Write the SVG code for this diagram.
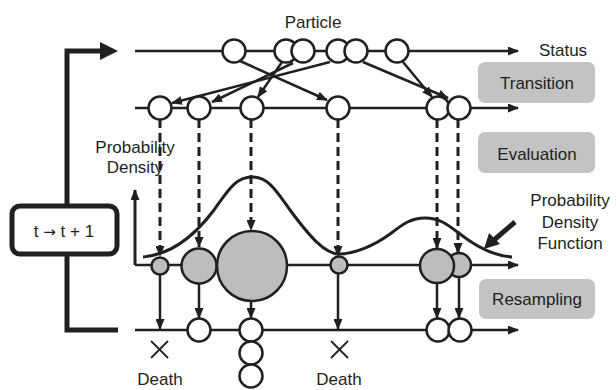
<svg xmlns="http://www.w3.org/2000/svg" width="616" height="390" viewBox="0 0 616 390">
<defs>
<style>
.ln{stroke:#231f20;stroke-width:3;fill:none}
.ar{stroke:#231f20;stroke-width:2.5;fill:none;marker-end:url(#ah)}
.da{stroke:#231f20;stroke-width:3;fill:none;stroke-dasharray:9 5;marker-end:url(#ah)}
.c{fill:#fff;stroke:#231f20;stroke-width:2.5}
.g{fill:#bcbdbf;stroke:#231f20;stroke-width:2.5}
.box{fill:#c2c3c5}
.t{font-family:"Liberation Sans",Arial,sans-serif;font-size:17px;fill:#231f20;text-anchor:middle}
.x{stroke:#231f20;stroke-width:1.8}
</style>
<marker id="ah" markerUnits="userSpaceOnUse" markerWidth="11" markerHeight="9" refX="10" refY="4.5" orient="auto">
<path d="M0,0 L11,4.5 L0,9 z" fill="#231f20"/>
</marker>
</defs>
<rect width="616" height="390" fill="#fff"/>

<g id="connectors">
<line class="ar" x1="135" y1="51" x2="518" y2="51"/>
<line class="ar" x1="135" y1="108" x2="518" y2="108"/>
<line class="ar" x1="135" y1="265" x2="518" y2="265"/>
<line class="ar" x1="135" y1="330" x2="518" y2="330"/>
<path class="ln" d="M135,265 L135,190" marker-end="url(#ah)"/>
<line class="ar" x1="240" y1="61" x2="327" y2="100"/>
<line class="ar" x1="282" y1="62" x2="258" y2="97"/>
<line class="ar" x1="293" y1="63" x2="212" y2="102"/>
<line class="ar" x1="330" y1="62" x2="172" y2="103"/>
<line class="ar" x1="363" y1="62" x2="448" y2="98"/>
<line class="ar" x1="403" y1="62" x2="432" y2="97"/>
<line class="da" x1="160" y1="119" x2="160" y2="256"/>
<line class="da" x1="199" y1="119" x2="199" y2="247"/>
<line class="da" x1="251" y1="119" x2="251" y2="230"/>
<line class="da" x1="338" y1="119" x2="338" y2="256"/>
<line class="da" x1="437" y1="119" x2="437" y2="248"/>
<line class="da" x1="458" y1="119" x2="458" y2="253"/>
<line class="ar" x1="160" y1="274" x2="160" y2="329"/>
<line class="ar" x1="199" y1="283" x2="199" y2="318"/>
<line class="ar" x1="251" y1="301" x2="251" y2="318"/>
<line class="ar" x1="338" y1="274" x2="338" y2="329"/>
<line class="ar" x1="437" y1="283" x2="437" y2="318"/>
<line class="ar" x1="459" y1="277" x2="459" y2="318"/>
<path class="ln" d="M143,257 C167,255 190,242 214,210 C227,192 235,177 252,177 C269,177 277,192 290,210 C310,237 325,254 339,254 C355,254 375,245 390,234 C402,225 410,218 425,218 C440,218 448,225 460,234 C478,248 495,256 512,257" stroke-width="2.5"/>
<line x1="515" y1="222" x2="494" y2="240" stroke="#231f20" stroke-width="5"/>
<polygon points="484,249 489,233 500,244" fill="#231f20"/>
<path d="M118,330 L67,330 L67,51 L102,51" fill="none" stroke="#231f20" stroke-width="5"/>
<polygon points="100,42 118,51 100,60" fill="#231f20"/>
</g>

<g id="top-row">
<circle class="c" cx="234" cy="51" r="11.5"/>
<circle class="c" cx="286" cy="51" r="11.5"/>
<circle class="c" cx="303" cy="51" r="11.5"/>
<circle class="c" cx="338" cy="51" r="11.5"/>
<circle class="c" cx="356" cy="51" r="11.5"/>
<circle class="c" cx="397" cy="51" r="11.5"/>
</g>

<g id="second-row">
<circle class="c" cx="160" cy="108" r="11.5"/>
<circle class="c" cx="199" cy="108" r="11.5"/>
<circle class="c" cx="252" cy="108" r="11.5"/>
<circle class="c" cx="338" cy="108" r="11.5"/>
<circle class="c" cx="438" cy="108" r="11.5"/>
<circle class="c" cx="459" cy="108" r="11.5"/>
</g>

<g id="weighted-row">
<circle class="g" cx="160" cy="266" r="8.5"/>
<circle class="g" cx="199" cy="266" r="17.5"/>
<circle class="g" cx="252" cy="266" r="35"/>
<circle class="g" cx="339" cy="265" r="8.5"/>
<circle class="g" cx="459" cy="265" r="12"/>
<circle class="g" cx="437" cy="266" r="17"/>
</g>

<g id="resampled-row">
<circle class="c" cx="199" cy="330" r="11.5"/>
<circle class="c" cx="251" cy="330" r="11.5"/>
<circle class="c" cx="251" cy="353" r="11.5"/>
<circle class="c" cx="251" cy="376" r="11.5"/>
<circle class="c" cx="438" cy="330" r="11.5"/>
<circle class="c" cx="460" cy="330" r="11.5"/>
</g>

<g id="death-1">
<line class="x" x1="151" y1="341" x2="168" y2="358"/>
<line class="x" x1="151" y1="358" x2="168" y2="341"/>
<text class="t" x="160" y="385">Death</text>
</g>
<g id="death-2">
<line class="x" x1="331" y1="341" x2="348" y2="358"/>
<line class="x" x1="331" y1="358" x2="348" y2="341"/>
<text class="t" x="339" y="385">Death</text>
</g>

<g id="time-step">
<rect x="12" y="206" width="105" height="48" rx="8" fill="#fff" stroke="#231f20" stroke-width="5"/>
<text class="t" x="64" y="237">t <tspan font-family="'DejaVu Sans',sans-serif" font-size="15">→</tspan> t + 1</text>
</g>

<g id="label-particle"><text class="t" x="313" y="28">Particle</text></g>
<g id="label-status"><text class="t" x="563" y="56">Status</text></g>
<g id="label-pd"><text class="t" x="135" y="153">Probability</text><text class="t" x="135" y="173">Density</text></g>
<g id="label-pdf"><text class="t" x="570" y="206">Probability</text><text class="t" x="570" y="228">Density</text><text class="t" x="570" y="249">Function</text></g>

<g id="transition">
<rect class="box" x="478" y="62" width="117" height="41" rx="7"/>
<text class="t" x="537" y="89">Transition</text>
</g>
<g id="evaluation">
<rect class="box" x="478" y="132" width="117" height="41" rx="7"/>
<text class="t" x="537" y="160">Evaluation</text>
</g>
<g id="resampling">
<rect class="box" x="479" y="279" width="116" height="40" rx="7"/>
<text class="t" x="537" y="305">Resampling</text>
</g>
</svg>
